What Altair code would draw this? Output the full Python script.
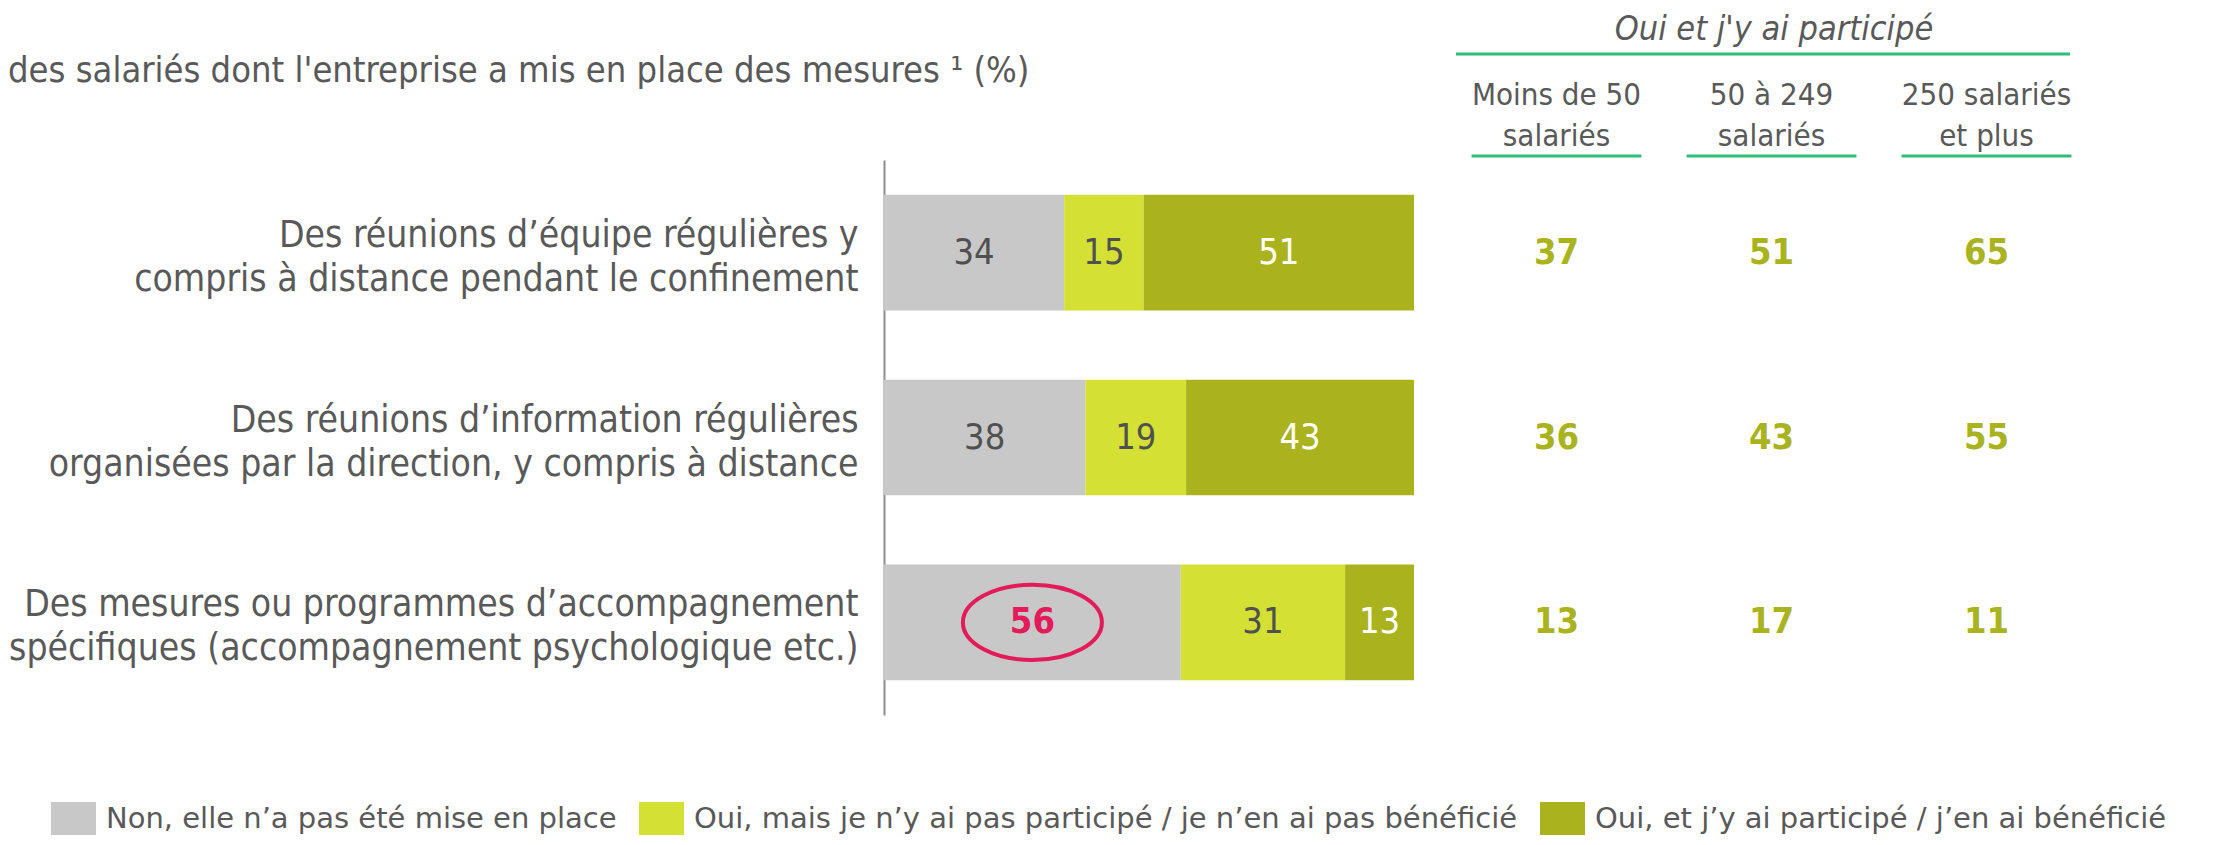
import altair as alt
import pandas as pd

# ---------------- data ----------------
categories = [
    "Des réunions d’équipe régulières y\ncompris à distance pendant le confinement",
    "Des réunions d’information régulières\norganisées par la direction, y compris à distance",
    "Des mesures ou programmes d’accompagnement\nspécifiques (accompagnement psychologique etc.)",
]
series = [
    "Non, elle n’a pas été mise en place",
    "Oui, mais je n’y ai pas participé / je n’en ai pas bénéficié",
    "Oui, et j’y ai participé / j’en ai bénéficié",
]
non_values = [34, 38, 56]
oui_mais_values = [15, 19, 31]
oui_et_values = [51, 43, 13]

size_columns = ["Moins de 50\nsalariés", "50 à 249\nsalariés", "250 salariés\net plus"]
small_values = [37, 36, 13]
mid_values = [51, 43, 17]
large_values = [65, 55, 11]

title_text = "des salariés dont l'entreprise a mis en place des mesures ¹ (%)"
table_title = "Oui et j'y ai participé"
highlight = (categories[2], series[0])

# ---------------- styles ----------------
COND = "DejaVu Sans Condensed, Liberation Sans Narrow, DejaVu Sans, sans-serif"
WIDE = "DejaVu Sans, Verdana, sans-serif"
TXT = "#595959"
bar_colors = ["#C8C8C8", "#D4E034", "#AAB31E"]
value_color = "#A9B31F"
line_color = "#2DBE78"
crimson = "#E31B5B"

# ---------------- frames ----------------
rows = []
for ci, c in enumerate(categories):
    for si, (s, vals) in enumerate(zip(series, [non_values, oui_mais_values, oui_et_values])):
        rows.append({"cat": c, "series": s, "order": si, "value": vals[ci],
                     "hl": (c, s) == highlight})
df_bar = pd.DataFrame(rows)

trows = []
for ci, c in enumerate(categories):
    for col, vals in zip(size_columns, [small_values, mid_values, large_values]):
        trows.append({"cat": c, "col": col, "value": vals[ci]})
df_tab = pd.DataFrame(trows)
df_head = pd.DataFrame({"col": size_columns})

bar_x = alt.Scale(domain=[0, 100], range=[0, 530])
tab_x = alt.Scale(domain=size_columns, range=[565, 1210], paddingInner=0.21, paddingOuter=0.105)
y_enc = alt.Y(
    "cat:N", sort=categories, title=None,
    scale=alt.Scale(paddingInner=0.374, paddingOuter=0.188),
    axis=alt.Axis(labelExpr="split(datum.label, '\\n')", labelFont=COND, labelFontSize=37,
                  labelLineHeight=44, labelColor=TXT, labelPadding=26, labelLimit=0,
                  labelOffset=-17, ticks=False, domainColor="#8C8C8C", domainWidth=2,
                  labelAlign="right", labelBaseline="middle"),
)

base = alt.Chart(df_bar).transform_window(
    end="sum(value)", sort=[alt.SortField("order")], groupby=["cat"], frame=[None, 0]
).transform_calculate(
    start="datum.end - datum.value", mid="datum.end - datum.value / 2",
    tcolor=f"datum.hl ? '{crimson}' : (datum.order == 2 ? '#FFFFFF' : '#505050')",
)

bars = base.mark_bar(stroke=None).encode(
    x=alt.X("start:Q", scale=bar_x, axis=None),
    x2="end:Q",
    y=y_enc,
    color=alt.Color(
        "series:N", scale=alt.Scale(domain=series, range=bar_colors),
        legend=alt.Legend(title=None, orient="none", legendX=-833, legendY=636,
                          direction="horizontal", symbolType="M-1,-0.733H1V0.733H-1Z",
                          symbolSize=2025, symbolStrokeWidth=0, symbolOpacity=1,
                          labelFont=WIDE, labelFontSize=29, labelColor=TXT,
                          labelOffset=10, columnPadding=22, labelLimit=0),
    ),
)

bar_text = base.transform_filter("!datum.hl").mark_text(
    font=COND, fontSize=36, baseline="middle", align="center"
).encode(
    x=alt.X("mid:Q", scale=bar_x, axis=None),
    y=alt.Y("cat:N", sort=categories),
    text="value:Q",
    color=alt.Color("tcolor:N", scale=None),
)

hl_text = base.transform_filter("datum.hl").mark_text(
    font=COND, fontSize=36, fontWeight="bold", baseline="middle", align="center", color=crimson
).encode(
    x=alt.X("mid:Q", scale=bar_x, axis=None),
    y=alt.Y("cat:N", sort=categories),
    text="value:Q",
)

ellipse = base.transform_filter("datum.hl").mark_point(
    shape="M-1,0A1,0.54,0,1,1,1,0A1,0.54,0,1,1,-1,0Z", size=19321, filled=False,
    color=crimson, strokeWidth=4, opacity=1
).encode(
    x=alt.X("mid:Q", scale=bar_x, axis=None),
    y=alt.Y("cat:N", sort=categories),
)

tab_values = alt.Chart(df_tab).mark_text(
    font=COND, fontSize=36, fontWeight="bold", color=value_color, baseline="middle"
).encode(
    x=alt.X("col:N", scale=tab_x, axis=None, sort=size_columns),
    y=alt.Y("cat:N", sort=categories),
    text="value:Q",
)

head_text = alt.Chart(df_head).mark_text(
    font=COND, fontSize=31, color=TXT, baseline="middle", lineBreak="\n", lineHeight=41
).encode(
    x=alt.X("col:N", scale=tab_x, axis=None, sort=size_columns),
    y=alt.value(-64),
    text="col:N",
)

head_lines = alt.Chart(df_head).mark_rect(color=line_color).encode(
    x=alt.X("col:N", scale=tab_x, axis=None, sort=size_columns),
    y=alt.value(-5.5),
    y2=alt.value(-2.5),
)

top_title = alt.Chart(pd.DataFrame({"t": [table_title]})).mark_text(
    font=COND, fontSize=34, fontStyle="italic", color=TXT, baseline="middle", align="center"
).encode(x=alt.value(890), y=alt.value(-130), text="t:N")

top_line = alt.Chart(pd.DataFrame({"t": [table_title]})).mark_rule(
    color=line_color, strokeWidth=3
).encode(x=alt.value(572), x2=alt.value(1186), y=alt.value(-106))

main_title = alt.Chart(pd.DataFrame({"t": [title_text]})).mark_text(
    font=COND, fontSize=36, color=TXT, baseline="middle", align="left"
).encode(x=alt.value(-876), y=alt.value(-89), text="t:N")

chart = alt.layer(
    bars, bar_text, ellipse, hl_text, tab_values, head_text, head_lines,
    top_title, top_line, main_title
).resolve_scale(x="independent").properties(
    width=1300, height=555,
    autosize=alt.AutoSizeParams(type="none"),
    padding={"left": 876, "top": 152, "right": 20, "bottom": 122},
    background="white",
).configure_view(stroke=None)

chart.save("out.html", embed_options={"renderer": "svg", "actions": False})
